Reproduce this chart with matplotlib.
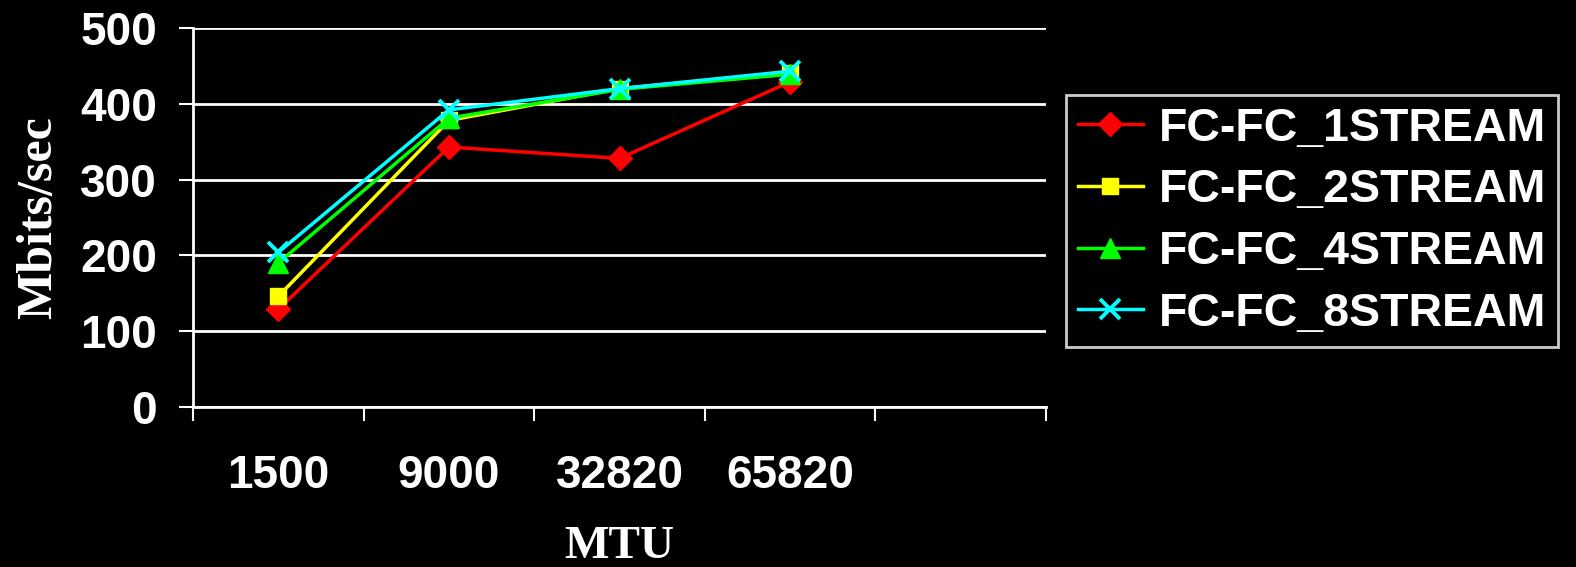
import numpy as np
import matplotlib.pyplot as plt

# MTU sizes on the category axis (one empty slot at the right)
mtu_labels = ["1500", "9000", "32820", "65820"]

# throughput in Mbits/sec per stream count
fc_1stream = [129, 343, 328, 429]
fc_2stream = [146, 378, 420, 441]
fc_4stream = [190, 381, 419, 439]
fc_8stream = [204, 392, 420, 443]

series = [
    ("FC-FC_1STREAM", fc_1stream, "#ff0000", "D", 12, 1.0),
    ("FC-FC_2STREAM", fc_2stream, "#ffff00", "s", 12, 1.0),
    ("FC-FC_4STREAM", fc_4stream, "#00ff00", "^", 14, 1.0),
    ("FC-FC_8STREAM", fc_8stream, "#00ffff", "x", 14, 2.8),
]

plt.rcParams["font.family"] = ["Liberation Sans", "DejaVu Sans"]

fig = plt.figure(figsize=(15.76, 5.67), dpi=100, facecolor="black")
ax = fig.add_axes([193 / 1576, 1 - 407 / 567, (1046 - 193) / 1576, (407 - 28) / 567])
ax.set_facecolor("black")

x = np.arange(len(mtu_labels)) + 0.5
for label, vals, color, marker, ms, mew in series:
    ax.plot(x, vals, color=color, lw=2.5, marker=marker, ms=ms,
            markeredgewidth=mew, markeredgecolor=color, markerfacecolor=color,
            label=label, clip_on=False)

ax.set_xlim(0, 5)
ax.set_ylim(0, 500)
ax.set_yticks(np.arange(0, 501, 100))
ax.set_xticks(np.arange(0, 6))
ax.set_xticklabels([])
ax.set_xticks(x, minor=True)
ax.set_xticklabels(mtu_labels, minor=True)

ax.grid(axis="y", color="white", lw=2)
ax.set_axisbelow(True)
for side in ("top", "right"):
    ax.spines[side].set_visible(False)
for side in ("left", "bottom"):
    ax.spines[side].set_color("white")
    ax.spines[side].set_linewidth(2)

ax.tick_params(axis="both", which="major", colors="white", width=1.5, length=10,
               labelsize=33)
ax.tick_params(axis="y", which="major", pad=16)
ax.tick_params(axis="x", which="minor", length=0, pad=34, labelsize=33,
               labelcolor="white")
for t in ax.get_yticklabels() + ax.get_xticklabels(minor=True):
    t.set_fontweight("bold")
    t.set_color("white")

ax.set_ylabel("Mbits/sec", family=["Liberation Serif", "DejaVu Serif"],
              fontweight="bold", fontsize=36, color="white", labelpad=13)
ax.set_xlabel("MTU", family=["Liberation Serif", "DejaVu Serif"],
              fontweight="bold", fontsize=34, color="white", labelpad=20)

leg = fig.legend(loc="upper left", bbox_to_anchor=(1066 / 1576, 1 - 95 / 567),
                 borderaxespad=0, frameon=True, fancybox=False,
                 facecolor="black", edgecolor="white",
                 prop={"weight": "bold", "size": 33.5},
                 handlelength=1.4, handletextpad=0.35, labelspacing=0.38,
                 borderpad=0.25)
leg.get_frame().set_linewidth(2)
for t in leg.get_texts():
    t.set_color("white")

fig.savefig("out.png", dpi=100, facecolor="black")
